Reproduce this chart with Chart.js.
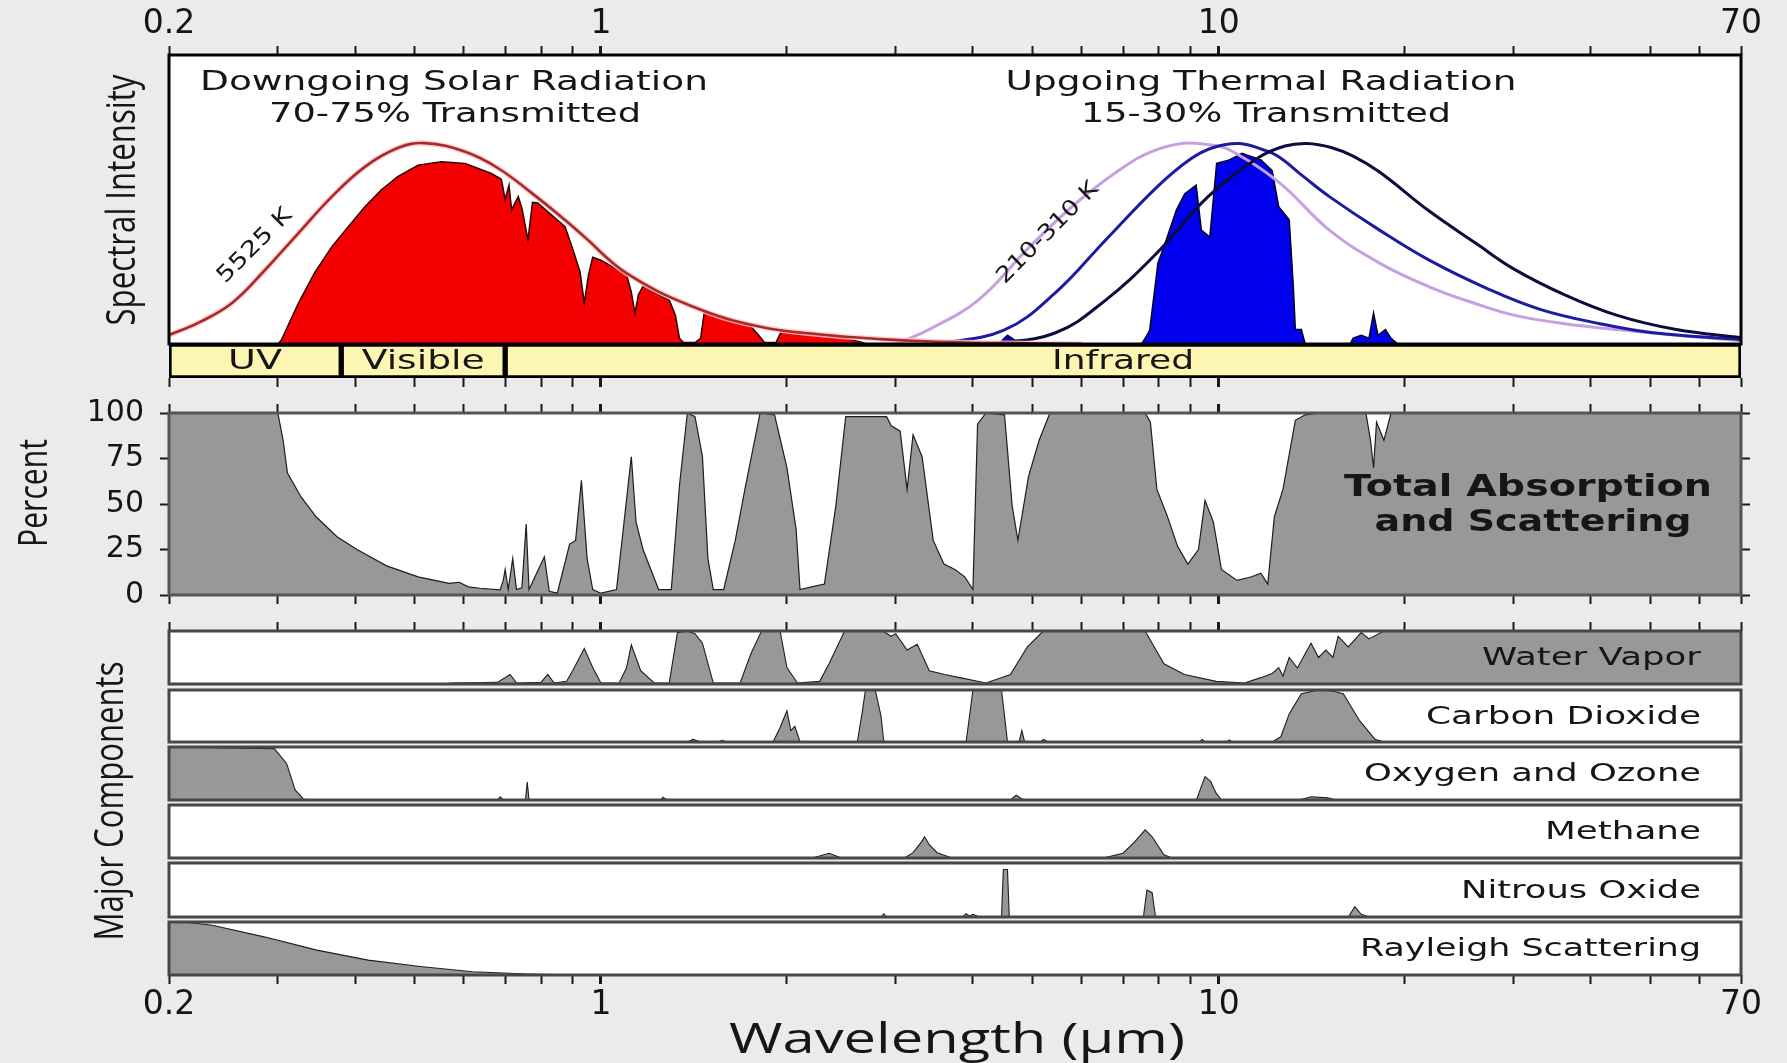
<!DOCTYPE html>
<html>
<head>
<meta charset="utf-8">
<script src="https://cdn.jsdelivr.net/npm/chart.js@4.4.1/dist/chart.umd.min.js"></script>
<style>
  html, body { margin: 0; padding: 0; background: #ebebeb; }
  #wrap { position: relative; width: 1787px; height: 1063px; overflow: hidden; }
  #wrap canvas { position: absolute; left: 0; top: 0; }
</style>
</head>
<body>
<div id="wrap"></div>
<script>
// Wavelength axis (micrometres, log)
const X_TICKS = [0.2, 0.3, 0.4, 0.5, 0.6, 0.7, 0.8, 0.9, 1, 2, 3, 4, 5, 6, 7, 8, 9, 10, 20, 30, 40, 50, 60, 70];
const X_LABELS = [0.2, 1, 10, 70];

// Top panel: blackbody curves (normalised intensity)
const bb5525 = [[0.2,0.031],[0.223,0.073],[0.253,0.142],[0.286,0.256],[0.324,0.384],[0.367,0.51],[0.415,0.613],[0.469,0.678],[0.519,0.695],[0.603,0.665],[0.681,0.609],[0.773,0.522],[0.875,0.429],[0.94,0.371],[1.10,0.245],[1.41,0.129],[1.81,0.06],[2.32,0.031],[2.83,0.017],[3.5,0.008],[4.5,0.003],[6,0]];
const bb310 = [[3.0,0],[3.38,0.048],[4.08,0.152],[4.94,0.336],[5.97,0.5],[7.22,0.63],[8.0,0.675],[8.8,0.695],[9.77,0.688],[10.4,0.672],[12.5,0.56],[15.1,0.394],[18.2,0.28],[21.9,0.198],[26,0.14],[30,0.1],[36.3,0.07],[45,0.048],[55,0.03],[70,0.012]];
const bb260 = [[3.5,0],[4.49,0.048],[5.43,0.176],[6.56,0.36],[7.94,0.543],[9.0,0.64],[9.8,0.68],[10.8,0.694],[11.8,0.672],[12.5,0.648],[13.7,0.58],[15.1,0.51],[18.2,0.394],[21.9,0.29],[27.3,0.19],[33.1,0.12],[41.4,0.07],[50,0.04],[70,0.015]];
const bb210 = [[4.3,0],[5.43,0.038],[6.56,0.152],[7.94,0.315],[9.6,0.509],[11.6,0.645],[12.8,0.685],[13.9,0.694],[15.2,0.68],[16.5,0.65],[18.2,0.595],[21.9,0.46],[26,0.35],[30,0.26],[36.3,0.17],[44,0.1],[55,0.05],[70,0.022]];

// Transmitted spectra
const solarTransmitted = [[0.2,0],[0.3,0],[0.304,0.014],[0.324,0.142],[0.344,0.246],[0.367,0.337],[0.39,0.406],[0.415,0.475],[0.441,0.533],[0.469,0.579],[0.506,0.619],[0.552,0.631],[0.603,0.625],[0.665,0.59],[0.69,0.57],[0.70,0.50],[0.71,0.55],[0.717,0.464],[0.735,0.51],[0.745,0.47],[0.762,0.36],[0.775,0.49],[0.79,0.488],[0.875,0.406],[0.9,0.33],[0.925,0.25],[0.94,0.142],[0.955,0.24],[0.97,0.30],[1.0,0.29],[1.10,0.24],[1.12,0.18],[1.135,0.107],[1.15,0.17],[1.17,0.2],[1.29,0.152],[1.32,0.1],[1.34,0.02],[1.36,0.005],[1.42,0.005],[1.45,0.02],[1.47,0.11],[1.6,0.09],[1.75,0.06],[1.8,0.03],[1.84,0.005],[1.92,0.005],[1.96,0.045],[2.3,0.03],[2.45,0.022],[2.6,0.01],[2.7,0],[3.4,0],[3.6,0.006],[4.0,0.004],[4.2,0],[70,0]];
const thermalTransmitted = [[4.4,0],[4.55,0.03],[4.7,0.01],[4.9,0],[7.5,0],[7.65,0.03],[7.73,0.048],[7.97,0.28],[8.22,0.36],[8.54,0.464],[8.81,0.52],[9.19,0.55],[9.37,0.394],[9.67,0.37],[9.92,0.625],[10.4,0.637],[10.9,0.66],[11.7,0.637],[12.2,0.60],[12.5,0.475],[13.0,0.43],[13.2,0.2],[13.3,0.05],[13.6,0.05],[13.8,0],[16.3,0],[16.5,0.02],[17.0,0.03],[17.5,0.02],[17.8,0.107],[18.1,0.03],[18.6,0.05],[19.0,0.02],[19.5,0],[70,0]];

// Spectral bands
const bandNames = ['UV', 'Visible', 'Infrared'];
const bandStart = [0.2, 0.38, 0.7];
const bandEnd = [0.38, 0.7, 70];

// Total absorption and scattering (percent)
const PERCENT_TICKS = [0, 25, 50, 75, 100];
const totalAbsorption = [[0.2,100],[0.3,100],[0.306,85],[0.311,67],[0.327,54],[0.346,43],[0.374,32],[0.403,25],[0.45,16],[0.506,10],[0.568,6.4],[0.59,7],[0.61,4.5],[0.637,3.7],[0.687,2.8],[0.695,8],[0.70,14],[0.708,3],[0.72,20],[0.73,3],[0.745,4],[0.757,39],[0.765,3],[0.81,21],[0.825,2],[0.85,1],[0.89,28],[0.91,30],[0.93,63],[0.95,20],[0.97,3],[1.0,1],[1.06,3],[1.09,40],[1.12,76],[1.14,40],[1.17,25],[1.24,3],[1.3,3],[1.34,60],[1.38,100],[1.42,98],[1.46,76],[1.49,20],[1.52,3],[1.58,3],[1.65,30],[1.71,58],[1.81,100],[1.91,99],[2.0,70],[2.07,36],[2.10,3],[2.23,5],[2.3,6],[2.40,49],[2.49,98],[2.90,98],[2.95,93],[3.05,90],[3.13,58],[3.2,88],[3.31,76],[3.45,30],[3.59,17],[3.74,14],[3.88,10],[4.0,3],[4.07,94],[4.2,100],[4.5,99],[4.63,49],[4.73,30],[4.92,65],[5.12,85],[5.33,100],[7.6,100],[7.75,95],[7.94,58],[8.26,43],[8.57,27],[8.91,17],[9.27,25],[9.5,52],[9.8,40],[10.1,14],[10.7,8],[11.3,10],[11.7,12],[12.0,6],[12.3,43],[12.7,58],[13.3,96],[13.8,99],[14.5,100],[17.3,100],[17.6,85],[17.8,70],[18.0,95],[18.5,85],[19,100],[70,100]];

// Major components (relative absorption 0..1)
const waterVapor = [[0.2,0],[0.55,0],[0.576,0.02],[0.68,0.03],[0.713,0.18],[0.73,0.02],[0.8,0.03],[0.82,0.18],[0.84,0.02],[0.88,0.05],[0.90,0.25],[0.94,0.67],[0.97,0.31],[1.0,0.02],[1.07,0.02],[1.1,0.3],[1.12,0.74],[1.16,0.25],[1.22,0.02],[1.29,0.02],[1.33,0.97],[1.38,1],[1.42,0.95],[1.46,0.77],[1.52,0.02],[1.68,0.02],[1.75,0.58],[1.82,1],[1.95,1],[2.0,0.31],[2.08,0.02],[2.26,0.05],[2.34,0.38],[2.48,1],[2.86,1],[2.95,0.9],[3.0,0.95],[3.13,0.64],[3.25,0.75],[3.4,0.25],[3.6,0.18],[3.81,0.12],[4.2,0.02],[4.6,0.18],[4.9,0.7],[5.2,1],[7.6,1],[7.8,0.77],[8.15,0.38],[8.8,0.18],[9.9,0.05],[11.0,0.02],[11.7,0.12],[12.2,0.2],[12.5,0.31],[12.7,0.15],[13.0,0.5],[13.4,0.3],[14.1,0.77],[14.5,0.5],[14.9,0.64],[15.3,0.5],[15.6,0.9],[16.2,0.7],[17.0,0.97],[17.5,0.85],[18.5,1],[70,1]];
const carbonDioxide = [[0.2,0],[1.38,0],[1.41,0.05],[1.45,0],[1.55,0],[1.57,0.03],[1.6,0],[1.9,0],[1.95,0.28],[2.0,0.6],[2.03,0.22],[2.06,0.3],[2.1,0],[2.6,0],[2.65,0.6],[2.68,1],[2.78,1],[2.84,0.5],[2.87,0],[3.9,0],[3.96,0.6],[4.0,1],[4.45,1],[4.5,0.5],[4.55,0],[4.75,0],[4.8,0.22],[4.85,0],[5.15,0],[5.2,0.05],[5.3,0],[9.3,0],[9.4,0.05],[9.5,0],[10.3,0],[10.4,0.04],[10.5,0],[12.2,0],[12.6,0.1],[13.0,0.54],[13.6,0.93],[14.5,1],[15.3,0.98],[15.9,0.93],[16.9,0.41],[17.9,0.05],[18.5,0],[70,0]];
const oxygenOzone = [[0.2,1],[0.296,0.97],[0.31,0.69],[0.32,0.19],[0.33,0.02],[0.34,0],[0.68,0],[0.687,0.06],[0.695,0],[0.755,0],[0.76,0.34],[0.765,0],[1.25,0],[1.26,0.05],[1.28,0],[4.6,0],[4.7,0.09],[4.8,0.02],[4.9,0],[9.2,0],[9.4,0.3],[9.5,0.44],[9.7,0.35],[9.9,0.13],[10.1,0],[13.5,0],[14.1,0.06],[15.0,0.04],[15.5,0],[70,0]];
const methane = [[0.2,0],[2.2,0],[2.34,0.09],[2.45,0],[3.1,0],[3.2,0.1],[3.3,0.3],[3.34,0.4],[3.4,0.25],[3.5,0.1],[3.7,0],[6.5,0],[7.0,0.09],[7.3,0.3],[7.6,0.53],[7.8,0.4],[8.15,0.06],[8.4,0],[70,0]];
const nitrousOxide = [[0.2,0],[2.84,0],[2.87,0.06],[2.9,0],[3.85,0],[3.9,0.06],[3.95,0.02],[4.0,0.05],[4.1,0],[4.45,0],[4.48,0.88],[4.55,0.88],[4.58,0],[7.55,0],[7.65,0.5],[7.8,0.45],[7.9,0],[16.2,0],[16.6,0.19],[17.0,0.05],[17.5,0],[70,0]];
const rayleigh = [[0.2,1],[0.215,0.99],[0.235,0.94],[0.285,0.72],[0.347,0.47],[0.42,0.28],[0.51,0.16],[0.62,0.06],[0.76,0.02],[0.95,0],[70,0]];

const componentNames = ['Water Vapor', 'Carbon Dioxide', 'Oxygen and Ozone', 'Methane', 'Nitrous Oxide', 'Rayleigh Scattering'];
const componentData = [waterVapor, carbonDioxide, oxygenOzone, methane, nitrousOxide, rayleigh];

// Layout
const W = 1787, H = 1063;
const PLOT_L = 169, PLOT_R = 1741;
const LABEL_BOX = 60;   // room kept for tick labels (labels are clipped to the scale box)
const NOTE_FONT = '"DejaVu Sans", sans-serif';
const AXIS_FONT = '"Open Sans", "DejaVu Sans", sans-serif';
const GRAY = 'rgb(152,152,152)';
const wrap = document.getElementById('wrap');

const toXY = arr => arr.map(([x, y]) => ({ x, y }));

function drawNote(ctx, n) {
  ctx.save();
  ctx.font = (n.weight || 'normal') + ' ' + n.size + 'px ' + (n.family || NOTE_FONT);
  ctx.fillStyle = n.color || '#161616';
  ctx.textBaseline = 'middle';
  ctx.textAlign = n.align || 'center';
  ctx.translate(n.x, n.y);
  if (n.rot) ctx.rotate(n.rot * Math.PI / 180);
  if (n.width) ctx.scale(n.width / ctx.measureText(n.text).width, 1);
  ctx.fillText(n.text, 0, 0);
  ctx.restore();
}

// white plot background, frame and text notes
function panel(opts) {
  return {
    id: 'panel',
    beforeDraw(chart) {
      if (!opts.bg) return;
      const a = chart.chartArea;
      chart.ctx.save();
      chart.ctx.fillStyle = opts.bg;
      chart.ctx.fillRect(a.left, a.top, a.right - a.left, a.bottom - a.top);
      chart.ctx.restore();
    },
    afterDraw(chart) {
      const ctx = chart.ctx, a = chart.chartArea;
      if (opts.frame) {
        ctx.save();
        ctx.strokeStyle = opts.frame;
        ctx.lineWidth = opts.frameWidth || 3;
        ctx.strokeRect(a.left, a.top, a.right - a.left, a.bottom - a.top);
        ctx.restore();
      }
      (opts.notes || []).forEach(n => drawNote(ctx, n));
      if (opts.after) opts.after(chart);
    }
  };
}

function xAxis(position, showLabels) {
  return {
    type: 'logarithmic', position, min: 0.2, max: 70,
    afterBuildTicks: s => { s.ticks = X_TICKS.map(v => ({ value: v })); },
    afterFit: s => { s.height = showLabels ? LABEL_BOX : 0; },
    grid: { drawOnChartArea: false, drawTicks: true, tickLength: 9, tickColor: '#1a1a1a',
            tickWidth: c => (c.tick && (c.tick.value === 1 || c.tick.value === 10)) ? 3 : 2 },
    border: { display: false },
    ticks: { display: showLabels, autoSkip: false, maxRotation: 0, padding: 2, color: '#141414',
             font: { family: 'DejaVu Sans', size: 33 },
             callback: v => X_LABELS.includes(v) ? String(v) : '' }
  };
}
const hiddenX = { type: 'logarithmic', min: 0.2, max: 70, display: false };

// pad = extra room taken by visible tick labels on each side
function makeChart(top, bottom, config, panelOpts, pad) {
  pad = Object.assign({ top: 0, bottom: 0, left: 0 }, pad);
  const c = document.createElement('canvas');
  c.width = W; c.height = H;
  c.style.width = W + 'px'; c.style.height = H + 'px';
  wrap.appendChild(c);
  config.options = Object.assign({
    responsive: false, animation: false, events: [],
    layout: { padding: { left: PLOT_L - pad.left, right: W - PLOT_R, top: top - pad.top, bottom: H - bottom - pad.bottom } },
    plugins: { legend: { display: false }, tooltip: { enabled: false } },
    elements: { point: { radius: 0 } }
  }, config.options);
  config.plugins = [panel(panelOpts)];
  return new Chart(c, config);
}

function area(data, color, edge, width) {
  return { data: toXY(data), fill: 'origin', backgroundColor: color, borderColor: edge,
           borderWidth: width || 1.2, pointRadius: 0, tension: 0 };
}
function curve(data, color, width) {
  return { data: toXY(data), fill: false, borderColor: color, borderWidth: width,
           pointRadius: 0, tension: 0.4 };
}

// 1. Spectral intensity panel
makeChart(55, 344, {
  type: 'line',
  data: {
    datasets: [
      curve(bb5525, '#a82a2a', 2.6),
      curve(bb5525, 'rgba(255,200,200,0.8)', 5.5),
      curve(bb210, '#0c0c40', 3),
      curve(bb260, '#1c1ca0', 3),
      curve(bb310, '#c6a0e0', 3),
      area(thermalTransmitted, '#0000ee', '#050520', 1.5),
      area(solarTransmitted, '#f40000', '#2a0000', 1.5)
    ]
  },
  options: {
    scales: {
      x: xAxis('top', true),
      y: { min: 0, max: 1, display: false }
    }
  }
}, {
  bg: '#ffffff', frame: '#000', frameWidth: 3,
  notes: [
    { text: 'Downgoing Solar Radiation', x: 454, y: 83, size: 26, width: 508 },
    { text: '70-75% Transmitted', x: 455, y: 115, size: 26, width: 372 },
    { text: 'Upgoing Thermal Radiation', x: 1261, y: 83, size: 26, width: 511 },
    { text: '15-30% Transmitted', x: 1266, y: 115, size: 26, width: 370 },
    { text: '5525 K', x: 255, y: 246, size: 22, rot: -45, width: 96 },
    { text: '210-310 K', x: 1048, y: 233, size: 22, rot: -45, width: 134 },
    { text: 'Spectral Intensity', x: 124, y: 200, size: 40, rot: -90, width: 251, family: AXIS_FONT }
  ]
}, { top: LABEL_BOX });

// 2. UV / Visible / Infrared band row
makeChart(344, 378, {
  type: 'bar',
  data: {
    labels: ['band'],
    datasets: bandNames.map((name, i) => ({
      label: name, data: [[bandStart[i], bandEnd[i]]], grouped: false,
      backgroundColor: 'rgb(253,245,178)', borderColor: '#000', borderWidth: 3,
      borderSkipped: false, barPercentage: 1, categoryPercentage: 1
    }))
  },
  options: {
    indexAxis: 'y',
    scales: {
      x: xAxis('bottom', false),
      y: { display: false }
    }
  }
}, {
  after(chart) {
    const widths = [54, 123, 142];
    chart.data.datasets.forEach((ds, i) => {
      const bar = chart.getDatasetMeta(i).data[0];
      drawNote(chart.ctx, { text: ds.label, x: (bar.x + bar.base) / 2, y: bar.y + 1, size: 27, width: widths[i] });
    });
  }
});

// 3. Total absorption and scattering
const PERCENT_BOX = 100;
makeChart(413, 595, {
  type: 'line',
  data: { datasets: [area(totalAbsorption, GRAY, '#1e1e1e', 1.2)] },
  options: {
    scales: {
      x: xAxis('bottom', false),
      x2: xAxis('top', false),
      y: {
        position: 'left', min: 0, max: 100,
        afterBuildTicks: s => { s.ticks = PERCENT_TICKS.map(v => ({ value: v })); },
        afterFit: s => { s.width = PERCENT_BOX; },
        grid: { drawOnChartArea: false, tickLength: 9, tickColor: '#1a1a1a', tickWidth: 2 },
        border: { display: false },
        ticks: { padding: 16, color: '#141414', font: { family: 'DejaVu Sans', size: 30 } }
      },
      y2: {
        position: 'right', min: 0, max: 100,
        afterBuildTicks: s => { s.ticks = PERCENT_TICKS.map(v => ({ value: v })); },
        afterFit: s => { s.width = 0; },
        grid: { drawOnChartArea: false, tickLength: 9, tickColor: '#1a1a1a', tickWidth: 2 },
        border: { display: false },
        ticks: { display: false }
      }
    }
  }
}, {
  bg: '#ffffff', frame: '#555', frameWidth: 3,
  notes: [
    { text: 'Total Absorption', x: 1528, y: 488, size: 30, weight: 'bold', width: 368 },
    { text: 'and Scattering', x: 1533, y: 523, size: 30, weight: 'bold', width: 317 },
    { text: 'Percent', x: 36, y: 493, size: 40, rot: -90, width: 108, family: AXIS_FONT }
  ]
}, { left: PERCENT_BOX });

// 4. Major components strips
const stripTop = [631, 690, 747, 805, 863, 922];
const stripBottom = [684, 742, 800, 858, 917, 975];
const labelWidth = [219, 275, 337, 156, 240, 341];

componentNames.forEach((name, i) => {
  const last = i === componentNames.length - 1;
  const notes = [{ text: name, x: 1701, y: (stripTop[i] + stripBottom[i]) / 2 + 1, size: 25, align: 'right', width: labelWidth[i] }];
  if (last) {
    notes.push({ text: 'Major Components', x: 112, y: 801, size: 40, rot: -90, width: 279, family: AXIS_FONT });
    notes.push({ text: 'Wavelength (\u00b5m)', x: 957, y: 1041, size: 42, width: 456, family: AXIS_FONT });
  }
  makeChart(stripTop[i], stripBottom[i], {
    type: 'line',
    data: { datasets: [area(componentData[i], GRAY, '#1e1e1e', 1.1)] },
    options: {
      scales: {
        x: i === 0 ? xAxis('top', false) : (last ? xAxis('bottom', true) : hiddenX),
        y: { min: 0, max: 1, display: false }
      }
    }
  }, { bg: '#ffffff', frame: '#474747', frameWidth: 3, notes }, last ? { bottom: LABEL_BOX } : {});
});
</script>
</body>
</html>
